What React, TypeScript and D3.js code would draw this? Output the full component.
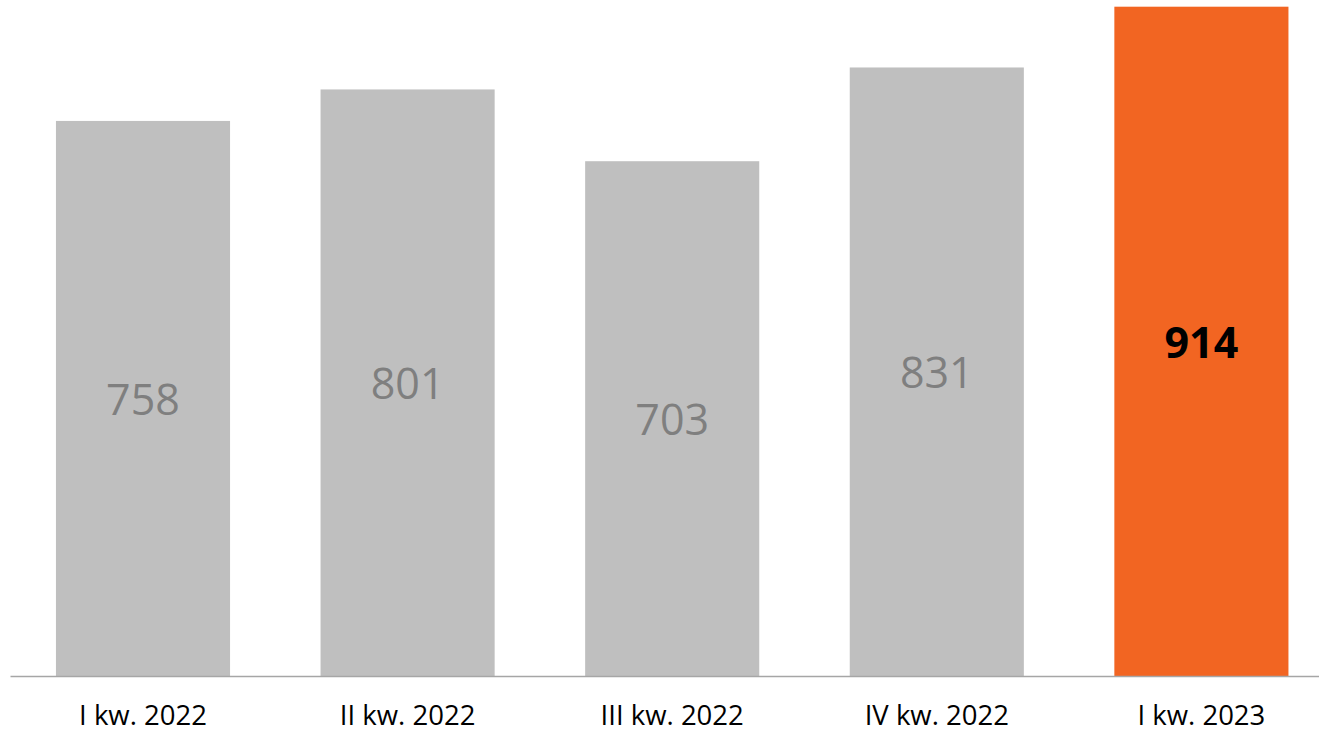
import React from "react";
import * as d3 from "d3";

const categories = ["I kw. 2022", "II kw. 2022", "III kw. 2022", "IV kw. 2022", "I kw. 2023"];
const values = [758, 801, 703, 831, 914];
const highlight = [false, false, false, false, true];

const W = 1319;
const H = 732;

export default function App() {
  const x = d3
    .scaleBand<string>()
    .domain(categories)
    .range([10.7, 1333.7])
    .paddingInner(0.342)
    .paddingOuter(0.171);
  const y = d3.scaleLinear().domain([0, 914]).range([676, 6.7]);
  const valueFs = 43;
  return (
    <svg
      width={W}
      height={H}
      style={{ position: "absolute", left: 0, top: 0, display: "block", background: "#fff" }}
      fontFamily="'Open Sans', sans-serif"
    >
      {categories.map((c, i) => {
        const v = values[i];
        const x0 = x(c)!;
        const top = y(v);
        const mid = (top + y(0)) / 2;
        return (
          <g key={c}>
            <rect
              x={x0}
              y={top}
              width={x.bandwidth()}
              height={y(0) - top}
              fill={highlight[i] ? "#f26522" : "#bfbfbf"}
            />
            <text
              x={x0 + x.bandwidth() / 2}
              y={mid + valueFs * 0.357 + 1}
              textAnchor="middle"
              fontSize={valueFs}
              fontWeight={highlight[i] ? 700 : 400}
              fill={highlight[i] ? "#000000" : "#7f7f7f"}
            >
              {v}
            </text>
            <text
              x={x0 + x.bandwidth() / 2}
              y={724.5}
              textAnchor="middle"
              fontSize={27.5}
              fill="#000"
            >
              {c}
            </text>
          </g>
        );
      })}
      <line x1={10.5} x2={W} y1={676.5} y2={676.5} stroke="#a6a6a6" strokeWidth={1.3} />
    </svg>
  );
}
